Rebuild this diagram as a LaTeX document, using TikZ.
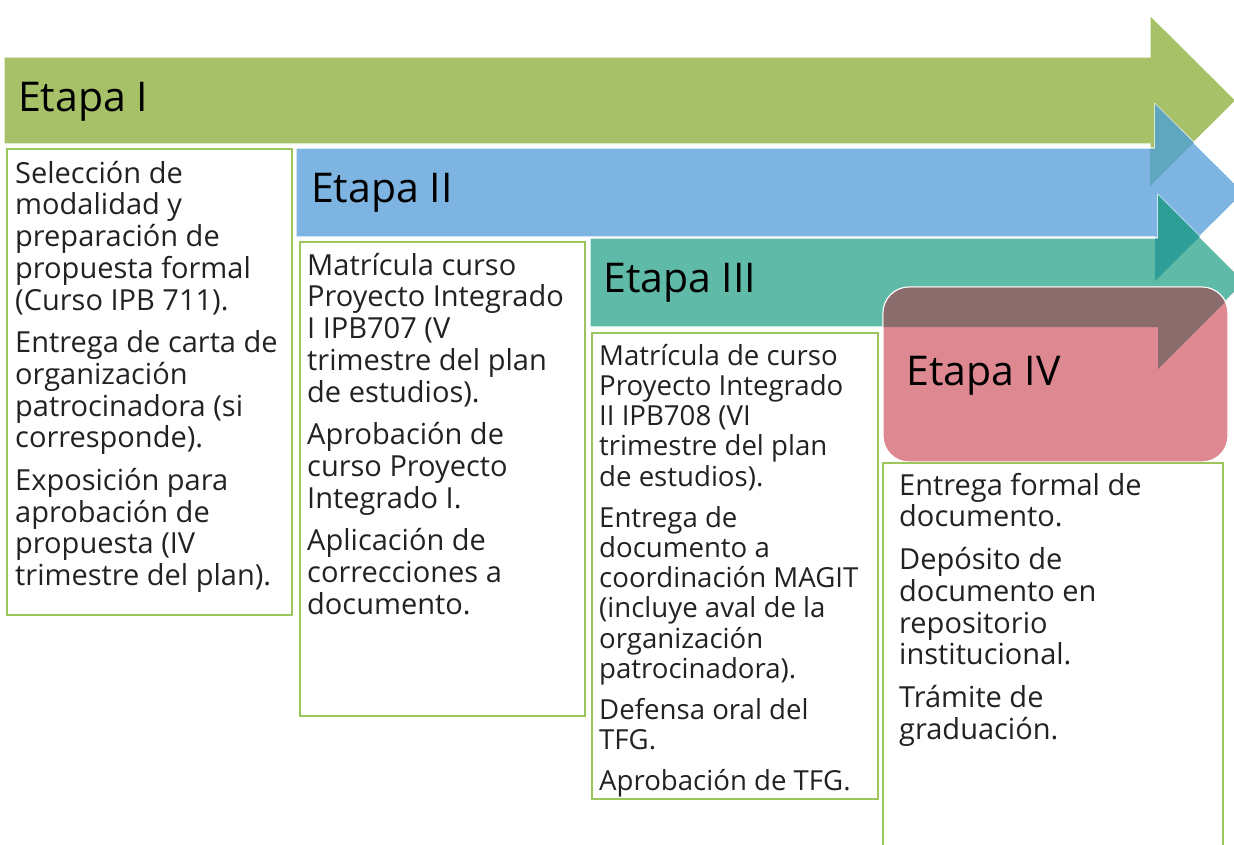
\documentclass[tikz,border=0pt]{standalone}
\usepackage{fontspec}
\setmainfont{Open Sans}
\definecolor{agreen}{HTML}{A6C168}
\definecolor{ablue}{HTML}{7EB4E1}
\definecolor{ateal}{HTML}{5FBBA7}
\definecolor{apink}{HTML}{DE8991}
\definecolor{ovGB}{HTML}{5FA6BF}
\definecolor{ovBT}{HTML}{2F9E97}
\definecolor{ovTP}{HTML}{8A6C6C}
\definecolor{boxgreen}{HTML}{9DC55D}
\definecolor{textgray}{HTML}{222222}
\newcommand{\firststrut}{\rule{0pt}{32pt}}
\begin{document}
\begin{tikzpicture}[x=1pt,y=-1pt,
  shapeline/.style={draw=white,line width=1.2pt,line join=miter},
  etapa/.style={anchor=base west,inner sep=0pt,font=\fontsize{41}{46}\selectfont,text=black},
  stepbox/.style={draw=boxgreen,line width=2pt,fill=white,anchor=north west,inner sep=0pt},
  body/.style={anchor=north west,inner sep=0pt,align=left,text=textgray,font=\fontsize{29}{31.7}\selectfont},
  bodysmall/.style={body,font=\fontsize{27.6}{30.2}\selectfont}]
\useasboundingbox (0,0) rectangle (1234,844);
\fill[white] (0,0) rectangle (1234,844);
% Etapa I arrow
\path[shapeline,fill=agreen] (4,57) -- (1150,57) -- (1150,15) -- (1236,100.5) -- (1150,186) -- (1150,144) -- (4,144) -- cycle;
% Etapa II arrow
\path[shapeline,fill=ablue] (296,148) -- (1155,148) -- (1155,104) -- (1244,192.5) -- (1155,281) -- (1155,237) -- (296,237) -- cycle;
\begin{scope}
  \clip (1150,15) -- (1236,100.5) -- (1150,186) -- cycle;
  \fill[ovGB] (296,148.6) -- (1155,148.6) -- (1155,104) -- (1244,192.5) -- (1155,281) -- (1155,237) -- (296,237) -- cycle;
\end{scope}
% Etapa III arrow
\path[shapeline,fill=ateal] (590,238) -- (1158,238) -- (1158,195) -- (1245,282) -- (1158,369) -- (1158,327) -- (590,327) -- cycle;
\begin{scope}
  \clip (1155,104) -- (1244,192.5) -- (1155,281) -- cycle;
  \fill[ovBT] (590,238.6) -- (1158,238.6) -- (1158,195) -- (1245,282) -- (1158,369) -- (1158,327) -- (590,327) -- cycle;
\end{scope}
% Etapa IV rounded box
\path[shapeline,fill=apink,rounded corners=26pt] (883,287) rectangle (1228,462);
\begin{scope}
  \clip[rounded corners=26pt] (883.6,287.6) rectangle (1227.4,461.4);
  \fill[ovTP] (590,238) -- (1158,238) -- (1158,195) -- (1245,282) -- (1158,369) -- (1158,327) -- (590,327) -- cycle;
\end{scope}
% titles
\node[etapa] (t1) at (18,111) {Etapa I};
\node[etapa] (t2) at (311,202) {Etapa II};
\node[etapa] (t3) at (603,292) {Etapa III};
\node[etapa] (t4) at (906,385) {Etapa IV};
% text boxes
\node[stepbox,minimum width=285,minimum height=466] (b1) at (6,148) {};
\node[stepbox,minimum width=285,minimum height=474] (b2) at (299,241) {};
\node[stepbox,minimum width=286,minimum height=466] (b3) at (591,332) {};
\node[stepbox,minimum width=340,minimum height=400] (b4) at (882,462) {};
\node[body] (x1) at (15,183-32) {\firststrut Selección de\\modalidad y\\preparación de\\propuesta formal\\(Curso IPB 711).\\[11pt]Entrega de carta de\\organización\\patrocinadora (si\\corresponde).\\[11pt]Exposición para\\aprobación de\\propuesta (IV\\trimestre del plan).};
\node[body] (x2) at (307,275-32) {\firststrut Matrícula curso\\Proyecto Integrado\\I IPB707 (V\\trimestre del plan\\de estudios).\\[11pt]Aprobación de\\curso Proyecto\\Integrado I.\\[11pt]Aplicación de\\correcciones a\\documento.};
\node[bodysmall] (x3) at (599,365-32) {\firststrut Matrícula de curso\\Proyecto Integrado\\II IPB708 (VI\\trimestre del plan\\de estudios).\\[11pt]Entrega de\\documento a\\coordinación MAGIT\\(incluye aval de la\\organización\\patrocinadora).\\[11pt]Defensa oral del\\TFG.\\[11pt]Aprobación de TFG.};
\node[body] (x4) at (899,495-32) {\firststrut Entrega formal de\\documento.\\[11pt]Depósito de\\documento en\\repositorio\\institucional.\\[11pt]Trámite de\\graduación.};
\end{tikzpicture}
\end{document}
